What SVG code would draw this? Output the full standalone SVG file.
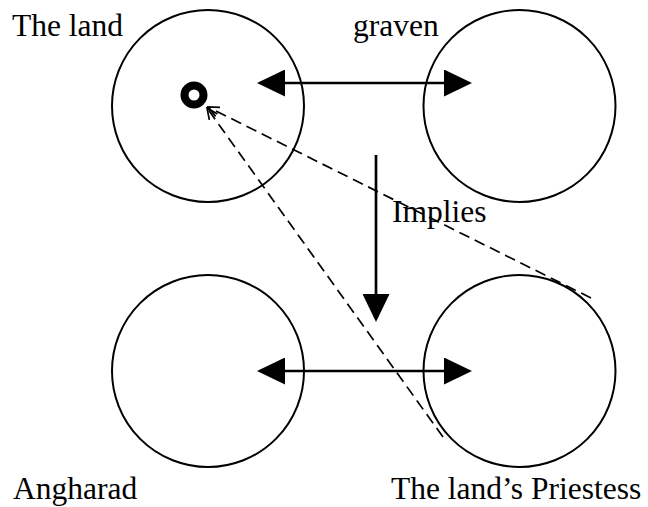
<svg xmlns="http://www.w3.org/2000/svg" width="648" height="507" viewBox="0 0 648 507">
<style>
.node{fill:none;stroke:#000;stroke-width:2}
.lbl{font-family:"Liberation Serif","Times New Roman",serif;font-size:31.5px;fill:#000}
.arr{stroke:#000;stroke-width:2.7;fill:none}
.dash{stroke:#000;stroke-width:1.7;fill:none;stroke-dasharray:11 6}
</style>
<defs>
<marker id="head" viewBox="0 0 28 27" refX="14" refY="13.5" markerWidth="28" markerHeight="27" markerUnits="userSpaceOnUse" orient="auto-start-reverse">
<path d="M0,0 L28,13.5 L0,27 z" fill="#000"/>
</marker>
<marker id="open" viewBox="0 0 12 12" refX="11" refY="6" markerWidth="12" markerHeight="12" markerUnits="userSpaceOnUse" orient="auto">
<path d="M0,1 L11,6 L0,11" fill="none" stroke="#000" stroke-width="1.7" stroke-dasharray="none"/>
</marker>
</defs>
<rect width="648" height="507" fill="#fff"/>
<g id="theland">
<circle class="node" cx="208" cy="106" r="96"/>
<circle cx="194" cy="95" r="9.5" fill="none" stroke="#000" stroke-width="8"/>
<text class="lbl" x="12" y="36">The land</text>
</g>
<g id="graven">
<circle class="node" cx="519.5" cy="106" r="96"/>
<text class="lbl" x="353" y="36">graven</text>
</g>
<g id="angharad">
<circle class="node" cx="208" cy="371" r="96"/>
<text class="lbl" x="13" y="499">Angharad</text>
</g>
<g id="priestess">
<circle class="node" cx="519.5" cy="371" r="96"/>
<text class="lbl" x="391" y="499">The land’s Priestess</text>
</g>
<g id="connectors">
<line class="arr" x1="271" y1="83" x2="458" y2="83" marker-start="url(#head)" marker-end="url(#head)"/>
<line class="arr" x1="271" y1="371" x2="458" y2="371" marker-start="url(#head)" marker-end="url(#head)"/>
<line class="arr" x1="376" y1="155" x2="376" y2="308" marker-end="url(#head)"/>
<text class="lbl" x="392" y="222">Implies</text>
<line class="dash" x1="591" y1="298" x2="208" y2="107" marker-end="url(#open)"/>
<line class="dash" x1="443" y1="437" x2="207" y2="108" marker-end="url(#open)"/>
</g>
</svg>
